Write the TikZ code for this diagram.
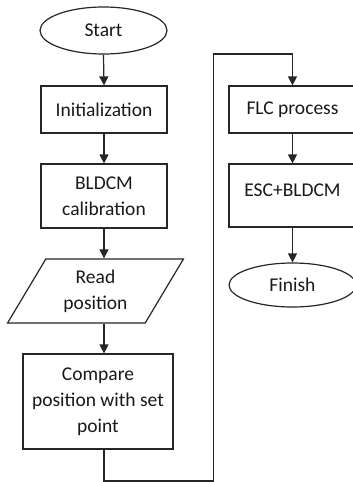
\documentclass[tikz,border=0pt]{standalone}
\usepackage{fontspec}
\setmainfont{Carlito}
\usetikzlibrary{arrows.meta,shapes.geometric}
\begin{document}
\begin{tikzpicture}[x=1pt,y=-1pt,
  every node/.style={font=\fontsize{19.5}{26}\selectfont, text=black!90},
  box/.style={draw=black!85, line width=1.2pt, fill=white, align=center, inner sep=0pt},
  terminal/.style={box, ellipse},
  process/.style={box, rectangle},
  io/.style={box, trapezium, trapezium left angle=60, trapezium right angle=120,
    trapezium stretches=true},
  flowline/.style={draw=black!85, line width=1.2pt},
  arrow/.style={flowline, -{Triangle[length=9pt,width=9pt]}}]
\useasboundingbox (0,0) rectangle (353,482);
\clip (0,0) rectangle (353,482);

% left column
\node[terminal, minimum width=127pt, minimum height=47pt] (start) at (103.5,30.5) {Start};
\node[process, minimum width=126pt, minimum height=47pt] (init) at (104,109.5) {Initialization};
\node[process, minimum width=126pt, minimum height=64pt] (bldcm) at (104,196) {BLDCM\\calibration};
\node[io, minimum width=176pt, minimum height=64pt] (read) at (95.5,291) {Read\\position};
\node[process, minimum width=150pt, minimum height=95pt] (compare) at (98,401.5) {Compare\\position with set\\point};

% right column
\node[process, minimum width=127pt, minimum height=47pt] (flc) at (292.5,109.5) {FLC process};
\node[process, minimum width=127pt, minimum height=63pt, text height=12pt, text depth=11pt] (esc) at (292.5,195.5) {ESC+BLDCM};
\node[terminal, minimum width=127pt, minimum height=44pt] (finish) at (292.5,285) {Finish};

% connectors
\draw[arrow] (start.south) -- (init.north);
\draw[arrow] (init.south) -- (bldcm.north);
\draw[arrow] (bldcm.south) -- (bldcm.south |- read.north);
\draw[arrow] (bldcm.south |- read.south) -- (bldcm.south |- compare.north);
\coordinate (low) at (213.5,481);
\coordinate (high) at (213.5,54);
\draw[arrow] (bldcm.south |- compare.south) |- (low) -- (high) -| (flc.north);
\draw[arrow] (flc.south) -- (esc.north);
\draw[arrow] (esc.south) -- (finish.north);
\end{tikzpicture}
\end{document}
